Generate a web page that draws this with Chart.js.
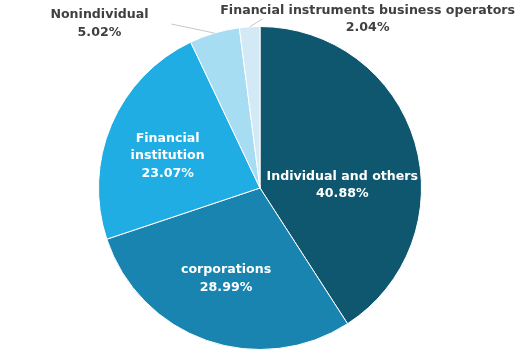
<!DOCTYPE html>
<html>
<head>
<meta charset="utf-8">
<script src="https://cdn.jsdelivr.net/npm/chart.js@4"></script>
<style>
  html, body { margin: 0; padding: 0; background: #fff; }
  #wrap { width: 520px; height: 350px; }
</style>
</head>
<body>
<div id="wrap"><canvas id="c"></canvas></div>
<script>
// shareholder breakdown
const categories = ['Individual and others', 'corporations', 'Financial institution', 'Nonindividual', 'Financial instruments business operators'];
const shares = [40.88, 28.99, 23.07, 5.02, 2.04];
const colors = ['#0f566f', '#1a84b0', '#1fade3', '#a7ddf3', '#d4e9f6'];

// how each label is drawn: inside lines, or outside with a leader line
const labelLines = [['Individual and others'], ['corporations'], ['Financial', 'institution'], ['Nonindividual'], ['Financial instruments business operators']];
const inside = [true, true, true, false, false];

const labelFont = 'bold 12.6px "DejaVu Sans", Verdana, sans-serif';

const pieLabels = {
  id: 'pieLabels',
  afterDatasetsDraw(chart) {
    const ctx = chart.ctx;
    const arcs = chart.getDatasetMeta(0).data;
    ctx.save();
    ctx.font = labelFont;
    ctx.textAlign = 'center';
    ctx.textBaseline = 'middle';
    arcs.forEach((arc, i) => {
      const mid = (arc.startAngle + arc.endAngle) / 2;
      const lines = labelLines[i].concat([shares[i].toFixed(2) + '%']);
      const lh = 17.5;
      if (inside[i]) {
        let ang = mid, rf = 0.6;
        if (i === 0) { ang = mid + 0.25; rf = 0.51; }
        if (i === 1) { ang = mid + 0.02; }
        if (i === 2) { ang = mid - 0.07; rf = 0.605; }
        const x = arc.x + Math.cos(ang) * arc.outerRadius * rf;
        const y = arc.y + Math.sin(ang) * arc.outerRadius * rf;
        ctx.fillStyle = '#ffffff';
        lines.forEach((t, k) => ctx.fillText(t, x, y + (k - (lines.length - 1) / 2) * lh));
      } else {
        const ex = arc.x + Math.cos(mid) * arc.outerRadius;
        const ey = arc.y + Math.sin(mid) * arc.outerRadius;
        let lx, ly, tx, ty;
        if (i === 3) { lx = ex - 43; ly = ey - 9; tx = lx - 72; ty = ly - 0.5; }
        else { lx = ex + 13; ly = ey - 8; tx = lx + 105; ty = ly + 0.5; }
        ctx.strokeStyle = '#c8c8c8';
        ctx.lineWidth = 1;
        ctx.beginPath();
        ctx.moveTo(ex, ey);
        ctx.lineTo(lx, ly);
        ctx.stroke();
        ctx.fillStyle = '#404040';
        lines.forEach((t, k) => ctx.fillText(t, tx, ty + (k - (lines.length - 1) / 2) * lh));
      }
    });
    ctx.restore();
  }
};

new Chart(document.getElementById('c'), {
  type: 'pie',
  data: {
    labels: categories,
    datasets: [{
      data: shares,
      backgroundColor: colors,
      borderColor: '#ffffff',
      borderWidth: 1
    }]
  },
  options: {
    responsive: true,
    maintainAspectRatio: false,
    animation: false,
    layout: { padding: { top: 26, bottom: 0 } },
    plugins: {
      legend: { display: false },
      tooltip: { enabled: false }
    }
  },
  plugins: [pieLabels]
});
</script>
</body>
</html>
